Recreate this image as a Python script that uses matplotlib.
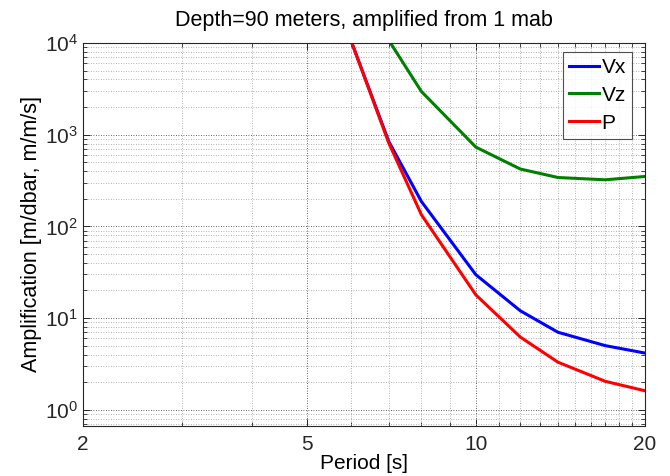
import numpy as np
import matplotlib
matplotlib.use('Agg')
import matplotlib.pyplot as plt
from matplotlib.ticker import FixedLocator, FixedFormatter, NullFormatter, LogLocator

plt.rcParams['font.family'] = ['Liberation Sans', 'DejaVu Sans']

# periods [s] and amplification values
period = [6, 7, 8, 10, 12, 14, 17, 20]
vx = [10500, 843, 187, 29.7, 12.0, 7.0, 5.0, 4.15]
vz = [None, 10700, 2960, 732, 422, 341, 322, 350]
p = [10500, 810, 134, 17.9, 6.2, 3.3, 2.04, 1.61]

xticks = [2, 5, 10, 20]
xtick_labels = ['2', '5', '10', '20']

fig = plt.figure(figsize=(6.7, 4.76), dpi=100)
ax = fig.add_axes([0.1239, 0.1057, 0.8388, 0.804])

vz_arr = np.array([np.nan if v is None else v for v in vz], dtype=float)
ax.loglog(period, vx, color=(0, 0, 1), lw=2.2, label='Vx')
ax.loglog(period, vz_arr, color=(0, 0.5, 0), lw=2.2, label='Vz')
ax.loglog(period, p, color=(1, 0, 0), lw=2.2, label='P')

ax.set_xlim(2, 20)
ax.set_ylim(0.67, 1e4)

ax.xaxis.set_major_locator(FixedLocator(xticks))
ax.xaxis.set_major_formatter(FixedFormatter(xtick_labels))
ax.xaxis.set_minor_locator(FixedLocator([v for v in range(3, 20) if v not in xticks]))
ax.xaxis.set_minor_formatter(NullFormatter())
ax.yaxis.set_major_locator(LogLocator(base=10, numticks=10))
ax.yaxis.set_minor_locator(LogLocator(base=10, subs=np.arange(2, 10), numticks=20))
ax.yaxis.set_minor_formatter(NullFormatter())

ax.grid(which='major', linestyle=(0, (1, 2)), color='#333333', linewidth=0.6)
ax.grid(which='minor', linestyle=(0, (1, 2)), color='#9a9a9a', linewidth=0.6)
ax.tick_params(which='both', direction='in', top=True, right=True, labelsize=15, colors='#262626')
ax.tick_params(which='major', length=5, width=0.7)
ax.tick_params(which='minor', length=3, width=0.6)
ax.tick_params(axis='x', pad=7)
for s in ax.spines.values():
    s.set_color('#262626')
    s.set_linewidth(0.8)

ax.set_title('Depth=90 meters, amplified from 1 mab', fontsize=15.5, pad=12)
ax.set_xlabel('Period [s]', fontsize=15, labelpad=0)
ax.set_ylabel('Amplification [m/dbar, m/m/s]', fontsize=15.5, labelpad=2)

leg = ax.legend(loc='upper right', bbox_to_anchor=(0.977, 0.977), fontsize=15,
                frameon=True, fancybox=False, edgecolor='#262626',
                handlelength=1.43, handletextpad=0.12, borderpad=0.3,
                labelspacing=0.42, borderaxespad=0)
leg.get_frame().set_linewidth(0.8)

fig.savefig('out.png', dpi=100)
